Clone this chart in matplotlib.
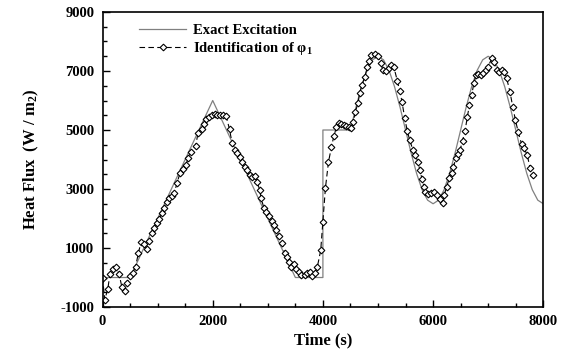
import matplotlib
matplotlib.use("Agg")
import matplotlib.pyplot as plt
from matplotlib.ticker import MultipleLocator

plt.rcParams["font.family"] = "Liberation Serif"
plt.rcParams["font.weight"] = "bold"
plt.rcParams["axes.unicode_minus"] = False
plt.rcParams["mathtext.fontset"] = "custom"
plt.rcParams["mathtext.rm"] = "Liberation Serif:bold"
plt.rcParams["mathtext.it"] = "Liberation Serif:bold"
plt.rcParams["mathtext.bf"] = "Liberation Serif:bold"

# exact heat flux excitation (s, W/m2)
t_exact = [0, 500, 2000, 3500, 4000, 4000, 4500,
           4600, 4700, 4800, 4900, 5000, 5100, 5200, 5300, 5400, 5500,
           5600, 5700, 5800, 5900, 6000, 6100, 6200, 6300, 6400, 6500,
           6600, 6700, 6800, 6900, 7000, 7100, 7200, 7300, 7400, 7500,
           7600, 7700, 7800, 7900, 8000]
q_exact = [0, 0, 6000, 0, 0, 5000, 5000,
           5773, 6469, 7023, 7378, 7500, 7378, 7023, 6469, 5773, 5000,
           4227, 3531, 2977, 2622, 2500, 2622, 2977, 3531, 4227, 5000,
           5773, 6469, 7023, 7378, 7500, 7378, 7023, 6469, 5773, 5000,
           4227, 3531, 2977, 2622, 2500]

# identified heat flux
t_ident = [0, 40, 95, 135, 195, 240, 300, 350, 405, 450,
           500, 550, 600, 650, 700, 750, 800, 850, 895, 940,
           990, 1030, 1075, 1115, 1165, 1205, 1255, 1300, 1350, 1405,
           1465, 1510, 1555, 1600, 1690, 1735, 1810, 1845, 1885, 1935,
           1985, 2035, 2085, 2135, 2185, 2245, 2305, 2350, 2400, 2445,
           2490, 2530, 2580, 2630, 2670, 2720, 2760, 2810, 2850, 2880,
           2930, 2975, 3020, 3075, 3110, 3155, 3200, 3255, 3305, 3345,
           3385, 3425, 3475, 3515, 3560, 3610, 3670, 3715, 3760, 3800,
           3850, 3900, 3960, 4000, 4045, 4100, 4155, 4200, 4245, 4290,
           4335, 4385, 4425, 4470, 4515, 4550, 4590, 4635, 4670, 4710,
           4760, 4805, 4840, 4880, 4940, 5000, 5050, 5090, 5150, 5195,
           5240, 5290, 5350, 5395, 5435, 5485, 5530, 5575, 5635, 5675,
           5725, 5760, 5800, 5835, 5860, 5910, 5970, 6025, 6075, 6125,
           6175, 6205, 6245, 6295, 6340, 6370, 6415, 6455, 6490, 6535,
           6580, 6620, 6660, 6700, 6740, 6780, 6820, 6865, 6910, 6960,
           7000, 7065, 7105, 7155, 7200, 7245, 7290, 7335, 7395, 7445,
           7495, 7545, 7605, 7650, 7710, 7760, 7810]
q_ident = [0, -750, -400, 120, 290, 345, 120, -310, -460, -180,
           50, 160, 370, 820, 1210, 1140, 970, 1250, 1520, 1670,
           1840, 1980, 2200, 2350, 2570, 2700, 2760, 2850, 3190, 3530,
           3670, 3810, 4040, 4260, 4460, 4910, 5020, 5200, 5360, 5450,
           5510, 5540, 5510, 5520, 5510, 5470, 5020, 4570, 4320, 4210,
           4090, 3930, 3760, 3640, 3470, 3420, 3440, 3250, 2970, 2680,
           2350, 2230, 2080, 1930, 1780, 1610, 1410, 1160, 840, 690,
           540, 370, 460, 280, 200, 90, 90, 140, 200, 50,
           160, 370, 920, 1890, 3020, 3900, 4430, 4800, 5090, 5250,
           5200, 5170, 5140, 5090, 5060, 5280, 5620, 5900, 6270, 6530,
           6810, 7120, 7350, 7540, 7580, 7510, 7260, 7030, 7010, 7090,
           7200, 7120, 6670, 6330, 5960, 5400, 4980, 4660, 4320, 4150,
           3930, 3640, 3330, 3080, 2900, 2820, 2850, 2910, 2800, 2650,
           2510, 2800, 3080, 3360, 3530, 3760, 4040, 4190, 4320, 4640,
           4970, 5430, 5850, 6190, 6580, 6860, 6900, 6860, 6920, 7030,
           7150, 7430, 7320, 7030, 6980, 7030, 6980, 6750, 6300, 5790,
           5330, 4930, 4530, 4380, 4150, 3700, 3470]

x_ticks = [0, 2000, 4000, 6000, 8000]
y_ticks = [-1000, 1000, 3000, 5000, 7000, 9000]

fig = plt.figure(figsize=(5.68, 3.56), dpi=100)
ax = fig.add_axes([0.1805, 0.1376, 0.776, 0.8287])

ax.plot(t_exact, q_exact, color="#808080", lw=0.9, label="Exact Excitation")
ax.plot(t_ident, q_ident, color="black", lw=0.8, ls=(0, (5, 3)),
        marker="D", markersize=3.4, markerfacecolor="white",
        markeredgecolor="black", markeredgewidth=0.8,
        label=r"Identification of $\varphi_{1}$")

ax.set_xlim(0, 8000)
ax.set_ylim(-1000, 9000)
ax.set_xticks(x_ticks)
ax.set_yticks(y_ticks)
ax.xaxis.set_minor_locator(MultipleLocator(500))
ax.yaxis.set_minor_locator(MultipleLocator(500))
ax.tick_params(which="both", direction="in", top=False, right=False,
               labelsize=10.5, width=1.0)
ax.tick_params(which="major", length=5, pad=6)
ax.tick_params(which="minor", length=3)
for s in ax.spines.values():
    s.set_linewidth(1.2)

ax.set_xlabel("Time (s)", fontsize=12, fontweight="bold", labelpad=3)
ax.set_ylabel(r"Heat Flux  (W / m$_{2}$)", fontsize=12, fontweight="bold",
              labelpad=14)

ax.legend(loc="upper left", bbox_to_anchor=(0.06, 0.995), frameon=False,
          fontsize=10.5, handlelength=3.2, handletextpad=0.5,
          labelspacing=0.2, borderaxespad=0.3)

fig.savefig("out.png", dpi=100)
